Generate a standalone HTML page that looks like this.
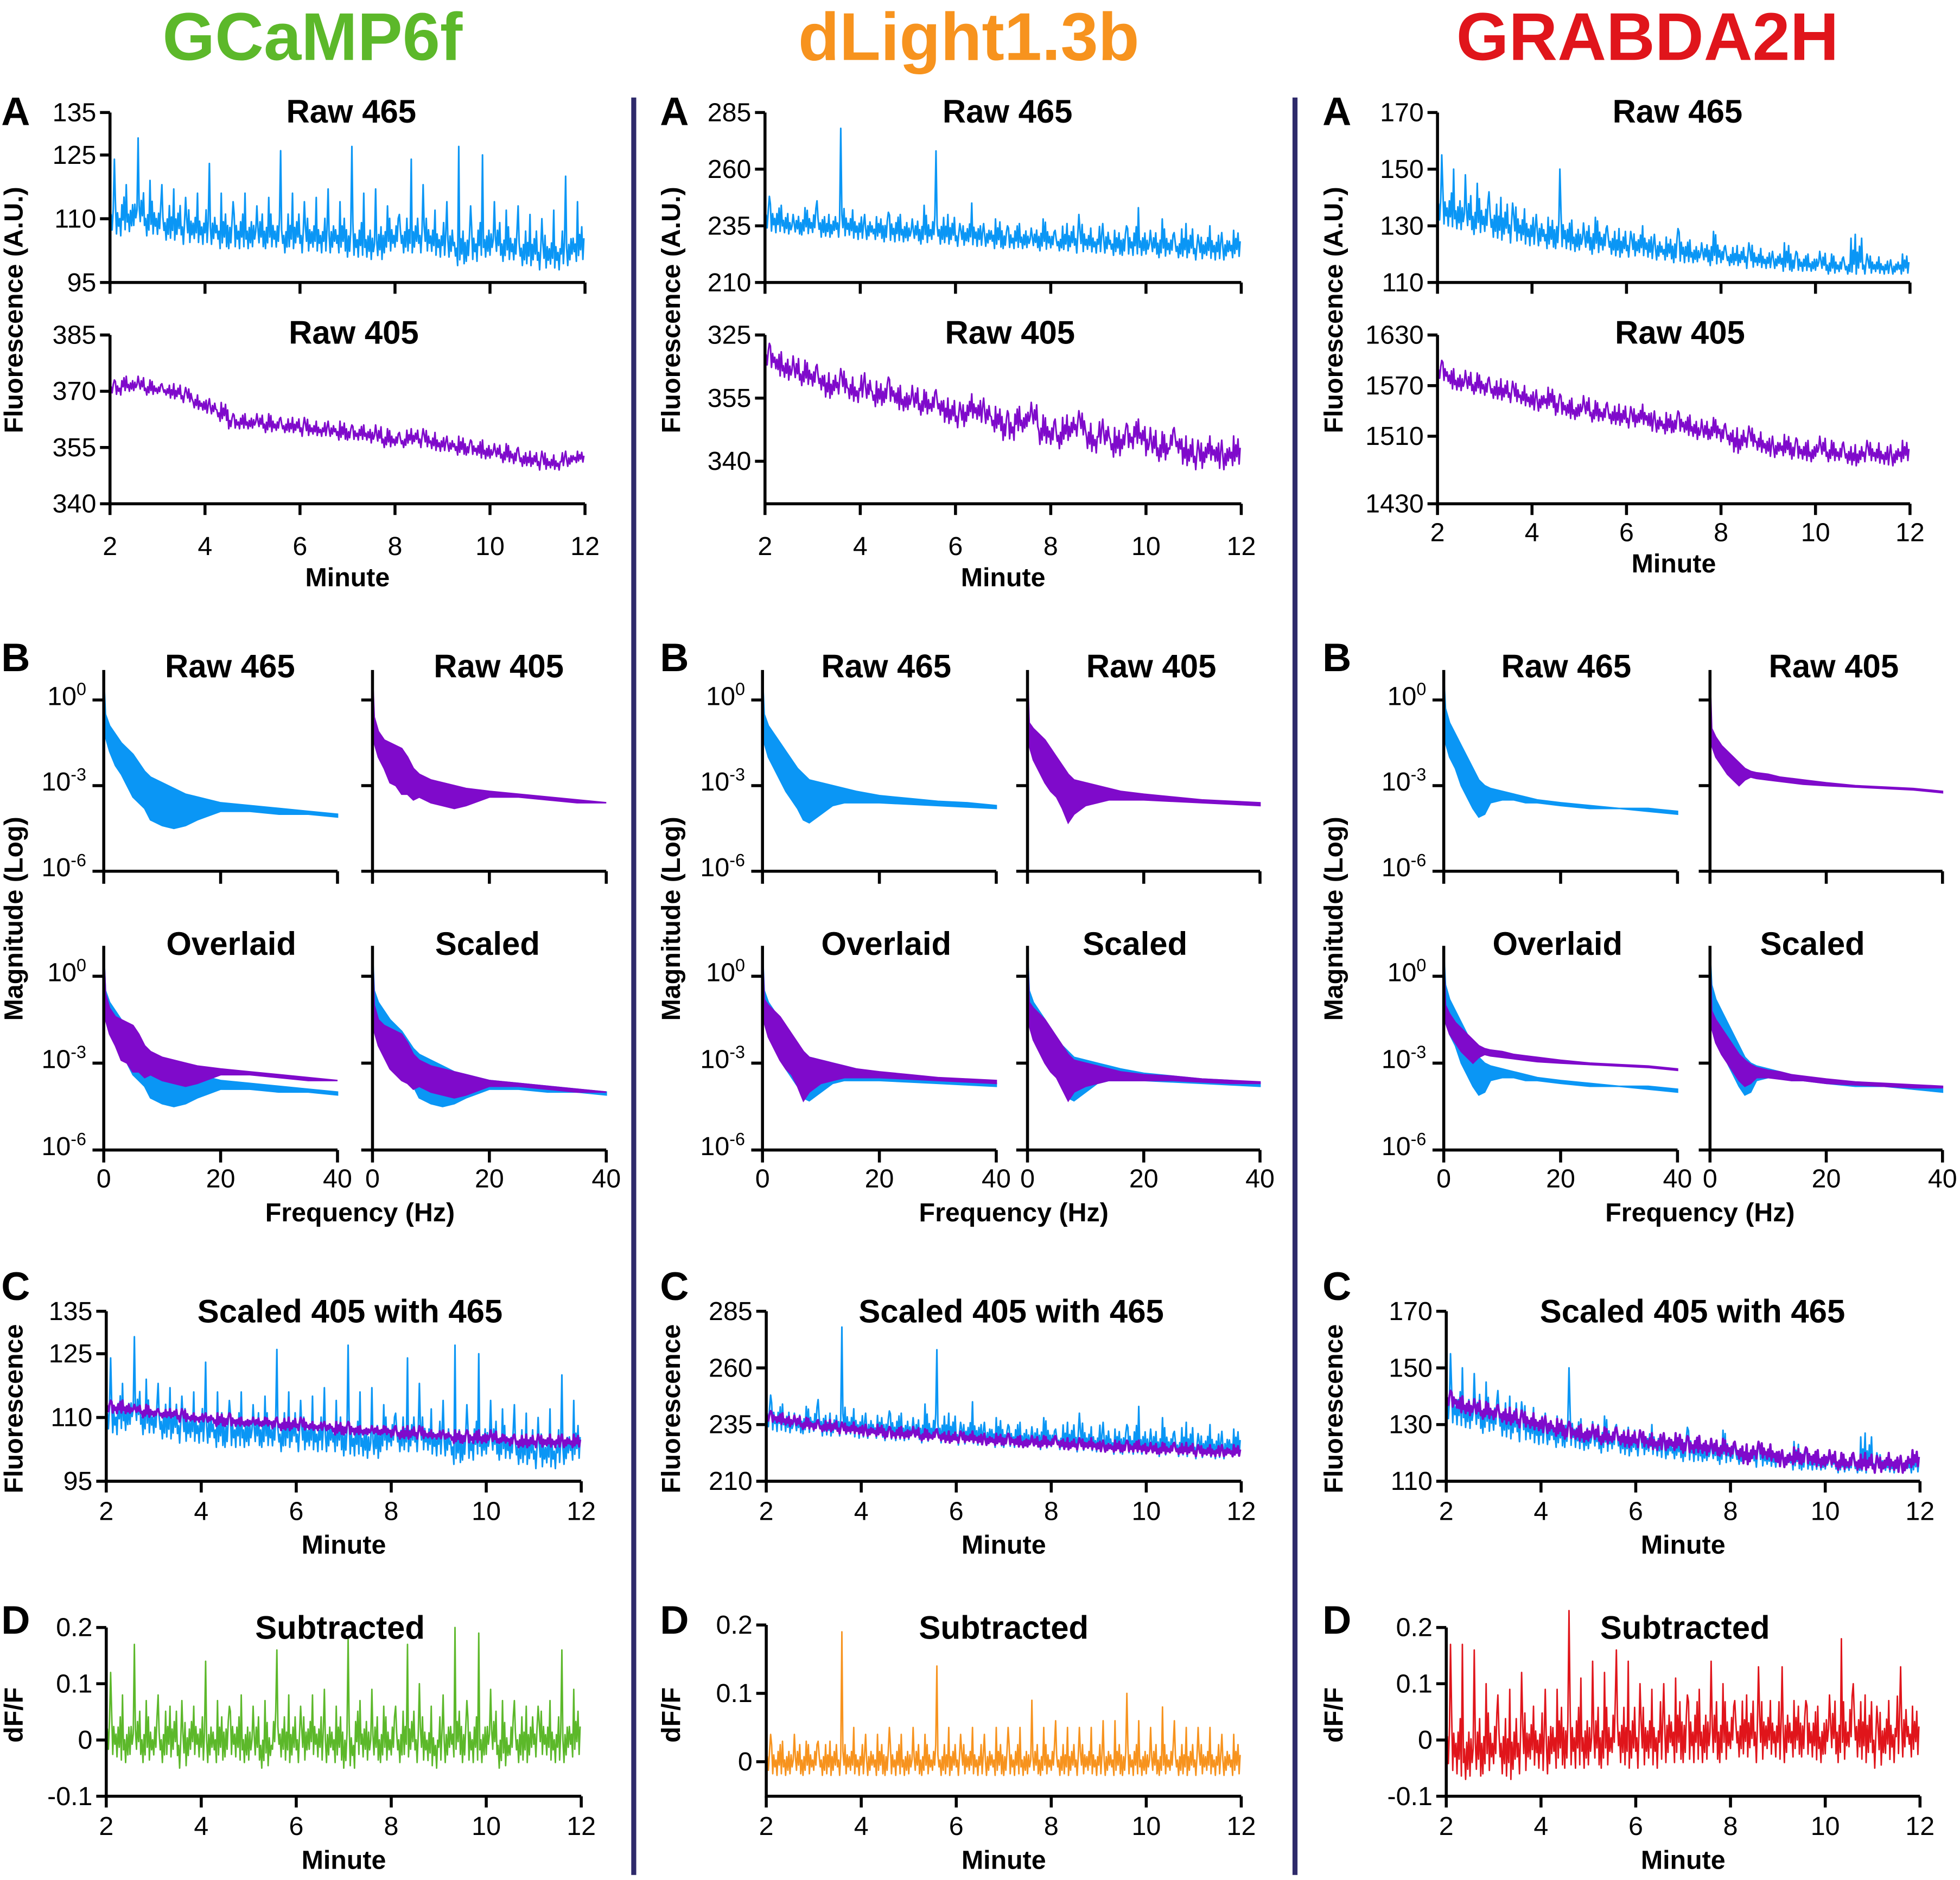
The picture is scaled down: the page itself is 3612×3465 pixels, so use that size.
<!DOCTYPE html>
<html><head><meta charset="utf-8"><style>html,body{margin:0;padding:0;background:#fff}svg{display:block}text{font-family:"Liberation Sans",Arial,sans-serif;fill:#000}</style></head>
<body>
<svg id="fig" xmlns="http://www.w3.org/2000/svg" width="3612" height="3465" viewBox="0 0 1568 1504" preserveAspectRatio="none">
<rect width="1568" height="1504" fill="#fff"/>
<text x="250" y="48" text-anchor="middle" font-size="54" font-weight="bold" style="fill:#5cb82a">GCaMP6f</text>
<text x="775" y="48" text-anchor="middle" font-size="54" font-weight="bold" style="fill:#f7931e">dLight1.3b</text>
<text x="1318" y="48" text-anchor="middle" font-size="54" font-weight="bold" style="fill:#e0151b">GRABDA2H</text>
<line x1="507" y1="78" x2="507" y2="1500" stroke="#2e2a6b" stroke-width="4"/>
<line x1="1036" y1="78" x2="1036" y2="1500" stroke="#2e2a6b" stroke-width="4"/>
<g id="root"></g>
</svg>
<script>
const BLUE="#0a96f5",PURP="#7f0acb";
// ---- column 1 (GCaMP6f) time data (40 bins, 2..12 min) ----
const c1raw465Hi=[124,118,129,119,118,117,115,116,123,116,114,116,113,115,126,116,114,115,117,114,127,116,117,113,111,124,118,112,114,127,113,125,114,112,113,111,110,112,120,114];
const c1raw465Lo=[106,107,108,106,105,105,104,104,104,103,103,103,103,103,102,103,102,102,102,102,101,101,100,102,102,102,102,101,101,99,100,101,101,100,99,99,98,98,99,100];
const c1raw405Hi=[373,374,374,373,372,372,371,369,368,367,364,364,364,364,363,363,363,362,362,362,361,361,361,360,359,360,360,359,358,358,357,357,356,356,355,354,354,353,354,354];
const c1raw405Lo=[369,370,370,369,369,368,367,365,364,362,360,360,360,359,359,359,358,358,358,357,357,357,356,355,355,356,355,354,354,353,353,352,352,351,350,350,349,349,350,351];
const c1scaledHi=[114,114,113,113,112,112,112,111,111,111,111,110,110,110,110,110,110,109,109,109,109,108,108,108,108,108,108,107,107,107,107,107,107,106,106,106,106,106,106,106];
const c1scaledLo=[111,111,111,110,110,110,109,109,109,108,108,108,108,108,107,107,107,107,107,106,106,106,106,106,105,105,105,105,105,104,104,104,104,104,103,103,103,103,103,103];
const c1dffHi=[0.12,0.08,0.17,0.07,0.08,0.06,0.07,0.06,0.14,0.07,0.06,0.08,0.06,0.07,0.16,0.08,0.06,0.08,0.09,0.06,0.18,0.07,0.09,0.06,0.06,0.17,0.1,0.06,0.08,0.2,0.07,0.19,0.09,0.07,0.07,0.06,0.06,0.07,0.16,0.09];
const c1dffLo=[-0.03,-0.04,-0.03,-0.04,-0.04,-0.03,-0.05,-0.03,-0.04,-0.04,-0.03,-0.04,-0.04,-0.05,-0.03,-0.04,-0.04,-0.03,-0.04,-0.04,-0.05,-0.03,-0.04,-0.04,-0.04,-0.03,-0.04,-0.05,-0.04,-0.03,-0.04,-0.04,-0.03,-0.05,-0.04,-0.04,-0.03,-0.04,-0.04,-0.03];
// ---- column 2 (dLight) ----
const c2raw465Hi=[248,244,240,243,246,240,278,242,240,239,241,240,238,244,268,240,236,245,236,238,235,236,234,238,233,236,240,234,236,233,235,243,233,238,232,236,231,235,232,233];
const c2raw465Lo=[232,232,231,231,230,230,230,229,229,229,228,228,228,227,227,227,226,226,226,225,225,225,225,224,224,224,223,223,223,222,222,222,222,221,221,221,220,220,220,221];
const c2raw405Hi=[368,366,365,364,363,361,362,360,361,359,360,358,358,357,357,355,354,356,355,353,352,353,354,351,350,351,352,349,350,348,349,350,348,347,348,346,345,346,345,346];
const c2raw405Lo=[362,360,359,358,357,355,356,354,355,353,354,352,352,351,351,349,348,350,349,347,345,347,348,344,343,345,346,342,344,341,343,344,341,340,342,339,338,340,338,339];
const c2scaledHi=[241,240,239,238,237,237,236,236,235,235,234,234,234,233,233,232,232,232,231,231,231,230,230,230,230,229,229,229,228,228,228,228,227,227,227,227,226,226,226,226];
const c2scaledLo=[236,235,234,233,232,232,231,231,230,230,229,229,229,228,228,227,227,227,226,226,226,225,225,225,225,224,224,224,223,223,223,223,222,222,222,222,221,221,221,221];
const c2dffHi=[0.04,0.03,0.04,0.03,0.03,0.03,0.19,0.05,0.04,0.04,0.05,0.04,0.05,0.04,0.14,0.05,0.04,0.05,0.04,0.05,0.05,0.05,0.09,0.05,0.06,0.05,0.05,0.05,0.06,0.06,0.1,0.06,0.05,0.08,0.06,0.05,0.05,0.05,0.04,0.04];
const c2dffLo=[-0.02,-0.02,-0.02,-0.02,-0.02,-0.02,-0.02,-0.02,-0.02,-0.02,-0.02,-0.02,-0.02,-0.02,-0.02,-0.02,-0.02,-0.02,-0.02,-0.02,-0.02,-0.02,-0.02,-0.02,-0.02,-0.02,-0.02,-0.02,-0.02,-0.02,-0.02,-0.02,-0.02,-0.02,-0.02,-0.02,-0.02,-0.02,-0.02,-0.02];
// ---- column 3 (GRABDA2H) ----
const c3raw465Hi=[155,150,148,145,142,140,138,136,134,133,150,132,131,133,130,129,128,130,127,126,129,125,124,128,123,123,124,122,121,124,121,120,121,120,119,127,120,119,118,120];
const c3raw465Lo=[130,129,128,127,126,125,124,123,123,122,122,121,121,120,120,119,119,119,118,118,117,117,117,116,116,116,115,115,115,114,114,114,114,113,113,113,113,113,113,113];
const c3raw405Hi=[1600,1590,1588,1585,1580,1578,1575,1570,1565,1568,1560,1555,1558,1552,1550,1548,1545,1548,1540,1538,1540,1535,1530,1532,1525,1520,1522,1515,1510,1512,1508,1505,1510,1505,1503,1500,1505,1502,1500,1505];
const c3raw405Lo=[1575,1565,1563,1560,1555,1553,1550,1545,1540,1543,1535,1530,1533,1527,1525,1523,1520,1523,1515,1513,1515,1510,1505,1507,1500,1490,1497,1490,1485,1487,1483,1480,1485,1480,1478,1475,1480,1477,1475,1480];
const c3scaledHi=[142,140,139,138,137,136,135,134,133,132,131,130,130,129,129,128,128,127,127,127,126,126,125,125,124,123,124,123,121,122,122,121,121,120,120,120,119,120,119,121];
const c3scaledLo=[136,134,133,132,131,130,129,128,127,126,125,124,124,123,123,122,122,121,121,121,120,120,119,119,118,116,118,117,115,116,116,115,115,114,114,114,113,114,113,115];
const c3dffHi=[0.17,0.17,0.16,0.1,0.08,0.09,0.12,0.06,0.09,0.09,0.23,0.11,0.14,0.12,0.16,0.14,0.1,0.09,0.1,0.11,0.08,0.09,0.14,0.1,0.07,0.08,0.13,0.07,0.13,0.07,0.07,0.06,0.08,0.18,0.1,0.08,0.06,0.07,0.13,0.06];
const c3dffLo=[-0.06,-0.07,-0.07,-0.06,-0.06,-0.07,-0.06,-0.05,-0.06,-0.05,-0.05,-0.05,-0.05,-0.05,-0.04,-0.05,-0.05,-0.05,-0.04,-0.04,-0.04,-0.04,-0.04,-0.04,-0.03,-0.03,-0.04,-0.03,-0.04,-0.03,-0.03,-0.04,-0.03,-0.04,-0.03,-0.04,-0.05,-0.04,-0.03,-0.03];
// ---- spectra (log10 magnitude) at frequencies ----
const freqs=[0,0.3,1,2,3,4,5,6,7,8,10,12,14,16,20,25,30,35,40];
const c1b465Up=[0.9,-0.5,-0.9,-1.2,-1.5,-1.7,-1.9,-2.2,-2.5,-2.7,-2.9,-3.1,-3.3,-3.4,-3.6,-3.7,-3.8,-3.9,-4.0];
const c1b465Lo=[-1,-1.3,-1.8,-2.3,-2.6,-3,-3.4,-3.6,-3.8,-4.2,-4.4,-4.5,-4.4,-4.2,-3.9,-3.9,-4.0,-4.0,-4.1];
const c1b405Up=[0.9,-0.6,-1.1,-1.4,-1.5,-1.6,-1.7,-2.0,-2.4,-2.6,-2.8,-2.9,-3.0,-3.1,-3.2,-3.3,-3.4,-3.5,-3.6];
const c1b405Lo=[-1,-1.5,-2.0,-2.4,-2.9,-3.0,-3.3,-3.3,-3.5,-3.4,-3.6,-3.7,-3.8,-3.7,-3.4,-3.4,-3.5,-3.6,-3.6];
const c1bScUp=[0.9,-1.0,-1.5,-1.7,-1.8,-1.9,-2.0,-2.3,-2.7,-2.9,-3.1,-3.2,-3.3,-3.4,-3.6,-3.7,-3.8,-3.9,-4.0];
const c1bScLo=[-1,-1.9,-2.4,-2.8,-3.2,-3.4,-3.6,-3.7,-3.9,-3.8,-4.0,-4.1,-4.2,-4.1,-3.8,-3.8,-3.9,-4.0,-4.0];
const c2b465Up=[0.9,-0.5,-0.9,-1.2,-1.5,-1.8,-2.1,-2.4,-2.6,-2.8,-2.9,-3.0,-3.1,-3.2,-3.35,-3.45,-3.55,-3.6,-3.7];
const c2b465Lo=[-1,-1.5,-2.0,-2.4,-2.8,-3.2,-3.5,-3.8,-4.2,-4.3,-4.0,-3.7,-3.6,-3.6,-3.6,-3.65,-3.7,-3.75,-3.8];
const c2b405Up=[0.9,-0.8,-1.0,-1.2,-1.4,-1.7,-2.0,-2.3,-2.6,-2.8,-2.9,-3.0,-3.1,-3.2,-3.3,-3.4,-3.5,-3.55,-3.6];
const c2b405Lo=[-1,-1.6,-2.1,-2.5,-2.9,-3.2,-3.4,-3.8,-4.3,-4.0,-3.7,-3.6,-3.5,-3.5,-3.5,-3.55,-3.6,-3.65,-3.7];
const c2bScUp=[0.9,-0.9,-1.1,-1.3,-1.5,-1.8,-2.1,-2.4,-2.7,-2.9,-3.0,-3.1,-3.2,-3.3,-3.4,-3.45,-3.55,-3.6,-3.65];
const c2bScLo=[-1,-1.7,-2.2,-2.6,-3.0,-3.3,-3.5,-3.9,-4.3,-4.0,-3.8,-3.7,-3.6,-3.6,-3.6,-3.6,-3.65,-3.7,-3.7];
const c3b465Up=[0.9,-0.3,-0.8,-1.2,-1.6,-2.0,-2.4,-2.8,-3.0,-3.1,-3.2,-3.3,-3.4,-3.5,-3.6,-3.7,-3.8,-3.8,-3.9];
const c3b465Lo=[-1,-1.5,-2,-2.4,-3,-3.4,-3.8,-4.1,-4.0,-3.6,-3.5,-3.5,-3.6,-3.6,-3.7,-3.8,-3.8,-3.9,-4.0];
const c3b405Up=[0.9,-1.0,-1.3,-1.6,-1.8,-2.0,-2.2,-2.4,-2.5,-2.55,-2.6,-2.7,-2.75,-2.8,-2.9,-3.0,-3.05,-3.1,-3.2];
const c3b405Lo=[-1,-1.6,-2.0,-2.3,-2.6,-2.8,-3.0,-2.8,-2.7,-2.75,-2.8,-2.85,-2.9,-2.95,-3.0,-3.05,-3.1,-3.15,-3.25];
const c3bScUp=[0.9,-1.2,-1.5,-1.8,-2.1,-2.4,-2.7,-2.9,-3.05,-3.15,-3.25,-3.3,-3.4,-3.45,-3.55,-3.65,-3.7,-3.75,-3.8];
const c3bScLo=[-1,-1.8,-2.3,-2.7,-3.0,-3.3,-3.6,-3.8,-3.7,-3.5,-3.5,-3.55,-3.6,-3.6,-3.7,-3.75,-3.8,-3.85,-3.85];
// tick labels
const minuteTicks=[2,4,6,8,10,12];
const freqTicks=[0,20,40];
const logTicks=[0,-3,-6];

const NS="http://www.w3.org/2000/svg";
const root=document.getElementById('root');
function mk(tag,attrs,parent,txt){const e=document.createElementNS(NS,tag);for(const k in attrs)e.setAttribute(k,attrs[k]);if(txt!==undefined)e.textContent=txt;(parent||root).appendChild(e);return e;}
function lin(d0,d1,r0,r1){return v=>r0+(v-d0)/(d1-d0)*(r1-r0);}
function txt(x,y,s,size,bold,anchor,name,rot){
  const a={x:x,y:y,'font-size':size,'text-anchor':anchor||'middle'};
  if(bold)a['font-weight']='bold';
  if(rot)a.transform='rotate(-90 '+x+' '+y+')';
  const t=mk('text',a,null,s);
  
  
  return t;
}
// within-bin jitter pattern (fractions of band), shape only
const PAT=[0,0.55,0.15,0.7,0.3,0.9,0.05,0.6,0.25,0.45];
function timePanel(o){
  const g=mk('g',{});
  
  
  const X=lin(2,12,o.x0,o.x1),Y=lin(o.d0,o.d1,o.yb,o.yt);
  o.series.forEach(s=>{
    let pts=[];const n=s.hi.length;const m=PAT.length+1;
    for(let i=0;i<n;i++){
      const w=Math.min(s.hi[i]-s.lo[i],s.band===undefined?1e9:s.band);
      for(let j=0;j<m;j++){
        const t=2+10*(i+j/m)/n;
        let v;
        if(j===4)v=s.hi[i]; else {const f=PAT[(j+i*3)%PAT.length];v=s.lo[i]+f*w;}
        pts.push(X(t).toFixed(1)+','+Y(v).toFixed(1));
      }
    }
    const p=mk('polyline',{points:pts.join(' '),fill:'none',stroke:s.color,'stroke-width':s.w||1.3,'stroke-linejoin':'round'},g);
    
    
  });
  const ax=mk('path',{d:'M'+o.x0+' '+o.yt+'V'+o.yb+'H'+o.x1,fill:'none',stroke:'#000','stroke-width':2.4},g);
  
  
  o.ticks.forEach((v,i)=>{mk('line',{x1:o.x0-8,x2:o.x0,y1:Y(v),y2:Y(v),stroke:'#000','stroke-width':2.4},g);
    txt(o.x0-11,Y(v)+7,o.labels[i],21,false,'end','y-tick-label');});
  minuteTicks.forEach(m=>{mk('line',{x1:X(m),x2:X(m),y1:o.yb,y2:o.yb+9,stroke:'#000','stroke-width':2.4},g);
    if(o.xlab)txt(X(m),o.xlab,String(m),21,false,'middle','x-tick-label');});
  if(o.title)txt(o.tx,o.ty,o.title,26,true,'middle',o.name+'-title');
  if(o.xtitle)txt((o.x0+o.x1)/2,o.xtitleY,'Minute',21,true,'middle','x-axis-title');
}
function specPanel(o){
  const g=mk('g',{});
  
  
  const X=lin(0,40,o.x0,o.x1),Y=lin(0,-6,o.y0,o.y6);
  const yt=Y(1.05);
  o.series.forEach(s=>{
    const up=freqs.map((f,i)=>X(f)+','+Math.max(yt,Y(s.up[i])));
    const lo=freqs.map((f,i)=>X(f)+','+Y(s.lo[i])).reverse();
    const p=mk('polygon',{points:up.concat(lo).join(' '),fill:s.color,stroke:s.color,'stroke-width':1.2},g);
    
    
  });
  const ax=mk('path',{d:'M'+o.x0+' '+yt+'V'+o.y6+'H'+o.x1,fill:'none',stroke:'#000','stroke-width':2.4},g);
  
  
  logTicks.forEach(v=>{mk('line',{x1:o.x0-9,x2:o.x0,y1:Y(v),y2:Y(v),stroke:'#000','stroke-width':2.4},g);
    if(o.ylab){const t=txt(o.x0-14,Y(v)+4,'10',21,false,'end','y-tick-label');
      mk('tspan',{dy:-8,'font-size':14},t,String(v));}});
  freqTicks.forEach(f=>{mk('line',{x1:X(f),x2:X(f),y1:o.y6,y2:o.y6+10,stroke:'#000','stroke-width':2.4},g);
    if(o.xlab)txt(X(f),o.xlab,String(f),21,false,'middle','x-tick-label');});
  txt(o.tx,o.ty,o.title,26,true,'middle',o.name+'-title');
}
const cols=[
 {lx:0,ylx:22,A1:{x0:88,x1:468,d0:95,d1:135,ticks:[135,125,110,95],labels:['135','125','110','95'],hi:c1raw465Hi,lo:c1raw465Lo,tx:281,band:9},
  A2:{yt:268,yb:403,d0:340,d1:385,ticks:[385,370,355,340],labels:['385','370','355','340'],hi:c1raw405Hi,lo:c1raw405Lo,xlab:444,mt:469},
  B:[[83,270],[298,485]],bt:[184,399,185,390],fx:288,
  C:{x0:85,x1:465,d0:95,d1:135,ticks:[135,125,110,95],labels:['135','125','110','95'],tx:280},
  D:{d0:-0.1,d1:0.2,yt:1302,yb:1437,ticks:[0.2,0.1,0,-0.1],labels:['0.2','0.1','0','-0.1'],tx:272,band:0.09},dcol:'#5cb82a',
  s:[c1scaledHi,c1scaledLo,c1dffHi,c1dffLo],spec:[c1b465Up,c1b465Lo,c1b405Up,c1b405Lo,c1bScUp,c1bScLo]},
 {lx:527,ylx:548,A1:{x0:612,x1:993,d0:210,d1:285,ticks:[285,260,235,210],labels:['285','260','235','210'],hi:c2raw465Hi,lo:c2raw465Lo,tx:806,band:14},
  A2:{yt:268,yb:403,d0:329.9,d1:370,ticks:[370,355,340],labels:['325','355','340'],hi:c2raw405Hi,lo:c2raw405Lo,xlab:444,mt:469},
  B:[[610,797],[822,1008]],bt:[709,921,709,908],fx:811,
  C:{x0:613,x1:993,d0:210,d1:285,ticks:[285,260,235,210],labels:['285','260','235','210'],tx:809},
  D:{d0:-0.0505,d1:0.2,yt:1300,yb:1437,ticks:[0.2,0.1,0],labels:['0.2','0.1','0'],tx:803,band:0.05},dcol:'#f7931e',
  s:[c2scaledHi,c2scaledLo,c2dffHi,c2dffLo],spec:[c2b465Up,c2b465Lo,c2b405Up,c2b405Lo,c2bScUp,c2bScLo]},
 {lx:1057,ylx:1078,A1:{x0:1150,x1:1528,d0:110,d1:170,ticks:[170,150,130,110],labels:['170','150','130','110'],hi:c3raw465Hi,lo:c3raw465Lo,tx:1342,band:14},
  A2:{yt:268,yb:403,d0:1430,d1:1630,ticks:[1630,1570,1510,1430],labels:['1630','1570','1510','1430'],hi:c3raw405Hi,lo:c3raw405Lo,xlab:433,mt:458},
  B:[[1155,1342],[1368,1554]],bt:[1253,1467,1246,1450],fx:1360,
  C:{x0:1157,x1:1536,d0:110,d1:170,ticks:[170,150,130,110],labels:['170','150','130','110'],tx:1354},
  D:{d0:-0.1,d1:0.2,yt:1302,yb:1437,ticks:[0.2,0.1,0,-0.1],labels:['0.2','0.1','0','-0.1'],tx:1348,band:0.12},dcol:'#e0151b',
  s:[c3scaledHi,c3scaledLo,c3dffHi,c3dffLo],spec:[c3b465Up,c3b465Lo,c3b405Up,c3b405Lo,c3bScUp,c3bScLo]}
];
cols.forEach((c,ci)=>{
  const k='col'+(ci+1)+'-';
  ['A','B','C','D'].forEach((L,i)=>txt(c.lx+1,[100,537,1040,1307][i],L,32,true,'start','panel-letter-'+L.toLowerCase()));
  txt(c.ylx-4,248,'Fluorescence (A.U.)',21,true,'middle','y-axis-title-a',true);
  txt(c.ylx-4,735,'Magnitude (Log)',21,true,'middle','y-axis-title-b',true);
  txt(c.ylx-4,1127,'Fluorescence',21,true,'middle','y-axis-title-c',true);
  txt(c.ylx-4,1372,'dF/F',21,true,'middle','y-axis-title-d',true);
  const a=c.A1;
  timePanel({name:k+'raw465',x0:a.x0,x1:a.x1,yt:90,yb:226,d0:a.d0,d1:a.d1,ticks:a.ticks,labels:a.labels,title:'Raw 465',tx:a.tx,ty:98,
    series:[{hi:a.hi,lo:a.lo,color:BLUE,name:'raw465-trace',band:a.band}]});
  const b=c.A2;
  timePanel({name:k+'raw405',x0:a.x0,x1:a.x1,yt:b.yt,yb:b.yb,d0:b.d0,d1:b.d1,ticks:b.ticks,labels:b.labels,title:'Raw 405',tx:a.tx+2,ty:275,xlab:b.xlab,xtitle:true,xtitleY:b.mt,
    series:[{hi:b.hi,lo:b.lo,color:PURP,name:'raw405-trace'}]});
  const sp=c.spec;
  const specs=[
    {t:'Raw 465',ser:[{up:sp[0],lo:sp[1],color:BLUE,name:'fft-465'}]},
    {t:'Raw 405',ser:[{up:sp[2],lo:sp[3],color:PURP,name:'fft-405'}]},
    {t:'Overlaid',ser:[{up:sp[0],lo:sp[1],color:BLUE,name:'fft-465'},{up:sp[2],lo:sp[3],color:PURP,name:'fft-405'}]},
    {t:'Scaled',ser:[{up:sp[0],lo:sp[1],color:BLUE,name:'fft-465'},{up:sp[4],lo:sp[5],color:PURP,name:'fft-405-scaled'}]}];
  specs.forEach((s,i)=>{
    const col=i%2,row=Math.floor(i/2);
    specPanel({name:k+'fft-'+s.t.toLowerCase().replace(' ','-'),x0:c.B[col][0],x1:c.B[col][1],y0:row?781:560,y6:row?920:697,
      ylab:col===0,xlab:row?950:null,title:s.t,tx:c.bt[i],ty:row?764:542,series:s.ser});
  });
  txt(c.fx,977,'Frequency (Hz)',21,true,'middle','x-axis-title-frequency');
  const C=c.C;
  timePanel({name:k+'scaled',x0:C.x0,x1:C.x1,yt:1049,yb:1185,d0:C.d0,d1:C.d1,ticks:C.ticks,labels:C.labels,title:'Scaled 405 with 465',tx:C.tx,ty:1058,xlab:1216,xtitle:true,xtitleY:1243,
    series:[{hi:a.hi,lo:a.lo,color:BLUE,name:'scaled-465-trace',band:a.band},{hi:c.s[0],lo:c.s[1],color:PURP,name:'scaled-405-trace',w:1.8}]});
  const D=c.D;
  timePanel({name:k+'subtracted',x0:C.x0,x1:C.x1,yt:D.yt,yb:D.yb,d0:D.d0,d1:D.d1,ticks:D.ticks,labels:D.labels,title:'Subtracted',tx:D.tx,ty:1311,xlab:1468,xtitle:true,xtitleY:1495,
    series:[{hi:c.s[2],lo:c.s[3],color:c.dcol,name:'dff-trace',w:1.2,band:D.band}]});
});
</script>
</body></html>
